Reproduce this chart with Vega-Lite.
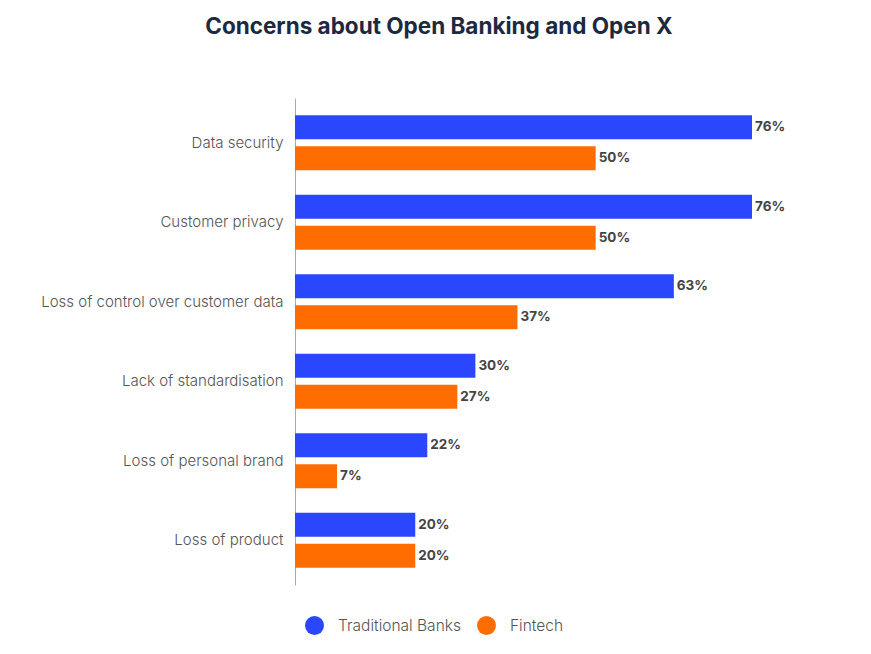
{
  "$schema": "https://vega.github.io/schema/vega-lite/v6.json",
  "width": 457,
  "height": 487,
  "padding": {"left": 40, "top": 15, "right": 10, "bottom": 10},
  "background": "white",
  "title": {
    "text": "Concerns about Open Banking and Open X",
    "font": "Inter",
    "fontSize": 22.5,
    "fontWeight": "bold",
    "color": "#1d2940",
    "anchor": "middle",
    "frame": "bounds",
    "dx": 26,
    "offset": 60
  },
  "config": {
    "view": {"stroke": null},
    "font": "Inter"
  },
  "data": {
    "values": [
      {"concern": "Data security", "group": "Traditional Banks", "value": 0.76},
      {"concern": "Data security", "group": "Fintech", "value": 0.50},
      {"concern": "Customer privacy", "group": "Traditional Banks", "value": 0.76},
      {"concern": "Customer privacy", "group": "Fintech", "value": 0.50},
      {"concern": "Loss of control over customer data", "group": "Traditional Banks", "value": 0.63},
      {"concern": "Loss of control over customer data", "group": "Fintech", "value": 0.37},
      {"concern": "Lack of standardisation", "group": "Traditional Banks", "value": 0.30},
      {"concern": "Lack of standardisation", "group": "Fintech", "value": 0.27},
      {"concern": "Loss of personal brand", "group": "Traditional Banks", "value": 0.22},
      {"concern": "Loss of personal brand", "group": "Fintech", "value": 0.07},
      {"concern": "Loss of product", "group": "Traditional Banks", "value": 0.20},
      {"concern": "Loss of product", "group": "Fintech", "value": 0.20}
    ]
  },
  "encoding": {
    "y": {
      "field": "concern",
      "type": "nominal",
      "sort": null,
      "scale": {"paddingInner": 0.126, "paddingOuter": 0.126},
      "axis": {
        "title": null,
        "ticks": false,
        "domainColor": "#aaaaaa",
        "domainWidth": 1,
        "labelFontSize": 15,
        "labelColor": "#555555",
        "labelFontWeight": 300,
        "labelPadding": 12,
        "labelLimit": 400
      }
    },
    "yOffset": {
      "field": "group",
      "type": "nominal",
      "sort": ["Traditional Banks", "Fintech"],
      "scale": {"paddingInner": 0.226, "paddingOuter": 0.234}
    },
    "x": {
      "field": "value",
      "type": "quantitative",
      "scale": {"domain": [0, 0.76], "nice": false},
      "axis": null
    }
  },
  "layer": [
    {
      "mark": {"type": "bar"},
      "encoding": {
        "color": {
          "field": "group",
          "type": "nominal",
          "sort": ["Traditional Banks", "Fintech"],
          "scale": {"domain": ["Traditional Banks", "Fintech"], "range": ["#2a47fd", "#ff6d00"]},
          "legend": {
            "title": null,
            "orient": "none",
            "direction": "horizontal",
            "legendX": 10,
            "legendY": 518,
            "symbolType": "circle",
            "symbolSize": 360,
            "symbolStrokeWidth": 0,
            "labelFontSize": 15.5,
            "labelColor": "#555555",
            "labelFontWeight": 300,
            "columnPadding": 16,
            "labelOffset": 14
          }
        }
      }
    },
    {
      "mark": {"type": "text", "align": "left", "baseline": "middle", "dx": 3, "fontSize": 13.5, "fontWeight": "bold", "color": "#444444"},
      "encoding": {
        "text": {"field": "value", "type": "quantitative", "format": ".0%"},
        "detail": {"field": "group"}
      }
    }
  ]
}
